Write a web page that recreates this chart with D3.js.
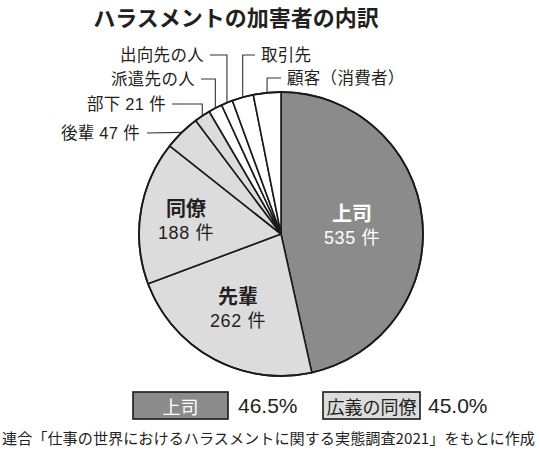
<!DOCTYPE html>
<html><head><meta charset="utf-8">
<script src="https://cdn.jsdelivr.net/npm/d3@7"></script>
<style>
html,body{margin:0;padding:0;background:#fff;}
svg{display:block;font-family:"Noto Sans CJK JP","Noto Sans",sans-serif;}
.lat{font-family:"Liberation Sans","Noto Sans CJK JP",sans-serif;}
</style></head>
<body><svg id="c" width="540" height="452"></svg>
<script>
// ---- data ----
const categories = ["上司","先輩","同僚","後輩","部下","派遣先の人","出向先の人","取引先","顧客（消費者）"];
const counts     = [535, 262, 188, 47, 21, 18, 15, 28, 36];
const groups     = ["boss","peer","peer","peer","peer","other","other","other","other"];
const legendLabels = ["上司","広義の同僚"];
const legendValues = ["46.5%","45.0%"];
const titleText  = "ハラスメントの加害者の内訳";
const sourceText = "連合「仕事の世界におけるハラスメントに関する実態調査2021」をもとに作成";

// ---- layout ----
const W = 540, H = 452;
const cx = 281, cy = 234, R = 142;
const fills = {boss:"#8b8b8b", peer:"#dcdcdc", other:"#ffffff"};

const svg = d3.select("#c");

svg.append("text").attr("x", 236).attr("y", 26).attr("text-anchor","middle")
  .attr("font-size", 22).attr("font-weight", 700).attr("fill","#231f20")
  .text(titleText);

const data = categories.map((c,i)=>({name:c, value:counts[i], group:groups[i]}));
const pie = d3.pie().value(d=>d.value).sort(null).startAngle(0).endAngle(2*Math.PI);
const arcs = pie(data);
const arc = d3.arc().innerRadius(0).outerRadius(R);

const g = svg.append("g").attr("transform", `translate(${cx},${cy})`);
g.selectAll("path").data(arcs).join("path")
  .attr("d", arc)
  .attr("fill", d=>fills[d.data.group])
  .attr("stroke", "#1a1a1a").attr("stroke-width", 1.6).attr("stroke-linejoin","round");
g.append("circle").attr("r", R).attr("fill","none").attr("stroke","#1a1a1a").attr("stroke-width",1.8);

// inner labels (name, count) offsets from centre
const inner = {
  "上司": {x:71, y:-20, color:"#ffffff"},
  "同僚": {x:-95, y:-25, color:"#231f20"},
  "先輩": {x:-43, y:63, color:"#231f20"}
};
arcs.forEach(a=>{
  const L = inner[a.data.name];
  if(!L) return;
  g.append("text").attr("class","lat").attr("text-anchor","middle").attr("fill", L.color)
    .attr("x", L.x).attr("y", L.y + 7)
    .attr("font-size", 20).attr("font-weight",700).text(a.data.name);
  g.append("text").attr("class","lat").attr("text-anchor","middle").attr("fill", L.color)
    .attr("x", L.x).attr("y", L.y + 30)
    .attr("font-size", 18).attr("letter-spacing", 0.6).text(a.data.value + " 件");
});

// outer labels with leader lines
const outer = {
  "後輩":          {ly:133, side:"left",  tx:140, text:d=>`後輩 ${d.value} 件`, straight:true},
  "部下":          {ly:104, side:"left",  tx:166, text:d=>`部下 ${d.value} 件`},
  "派遣先の人":    {ly:79,  side:"left",  tx:195, text:d=>d.name},
  "出向先の人":    {ly:55,  side:"left",  tx:204, text:d=>d.name},
  "取引先":        {ly:55,  side:"right", tx:261, text:d=>d.name},
  "顧客（消費者）": {ly:78,  side:"right", tx:287, text:d=>d.name}
};
arcs.forEach(a=>{
  const L = outer[a.data.name];
  if(!L) return;
  const m = (a.startAngle + a.endAngle)/2;
  const px = cx + R*Math.sin(m), py = cy - R*Math.cos(m);
  let pts;
  if(L.straight){
    pts = [[L.tx+7, L.ly],[px, py]];
  } else if(L.side==="left"){
    pts = [[L.tx+6, L.ly],[px, L.ly],[px, py]];
  } else {
    pts = [[L.tx-6, L.ly],[px, L.ly],[px, py]];
  }
  svg.append("path").attr("d", d3.line()(pts)).attr("fill","none")
    .attr("stroke","#333").attr("stroke-width",1.1);
  svg.append("text").attr("class","lat").attr("x", L.tx).attr("y", L.ly + 6)
    .attr("text-anchor", L.side==="left" ? "end" : "start")
    .attr("font-size", 16.5).attr("letter-spacing", 0.3)
    .attr("fill","#231f20")
    .text(L.text(a.data));
});

// legend
const legend = [
  {x:133, w:95, fill:fills.boss, color:"#ffffff", vx:238},
  {x:323, w:97, fill:fills.peer, color:"#231f20", vx:428}
];
legend.forEach((l,i)=>{
  svg.append("rect").attr("x", l.x).attr("y", 392).attr("width", l.w).attr("height", 27)
    .attr("fill", l.fill).attr("stroke","#1a1a1a").attr("stroke-width",1.6);
  svg.append("text").attr("x", l.x + l.w/2).attr("y", 405.5).attr("text-anchor","middle")
    .attr("dominant-baseline","central").attr("font-size", 18).attr("fill", l.color)
    .text(legendLabels[i]);
  svg.append("text").attr("class","lat").attr("x", l.vx).attr("y", 412.5)
    .attr("font-size", 21).attr("fill","#231f20")
    .text(legendValues[i]);
});

svg.append("text").attr("x", 2).attr("y", 437).attr("dominant-baseline","central")
  .attr("font-size", 15).attr("fill","#231f20")
  .attr("textLength", 533).attr("lengthAdjust","spacingAndGlyphs")
  .text(sourceText);
</script></body></html>
